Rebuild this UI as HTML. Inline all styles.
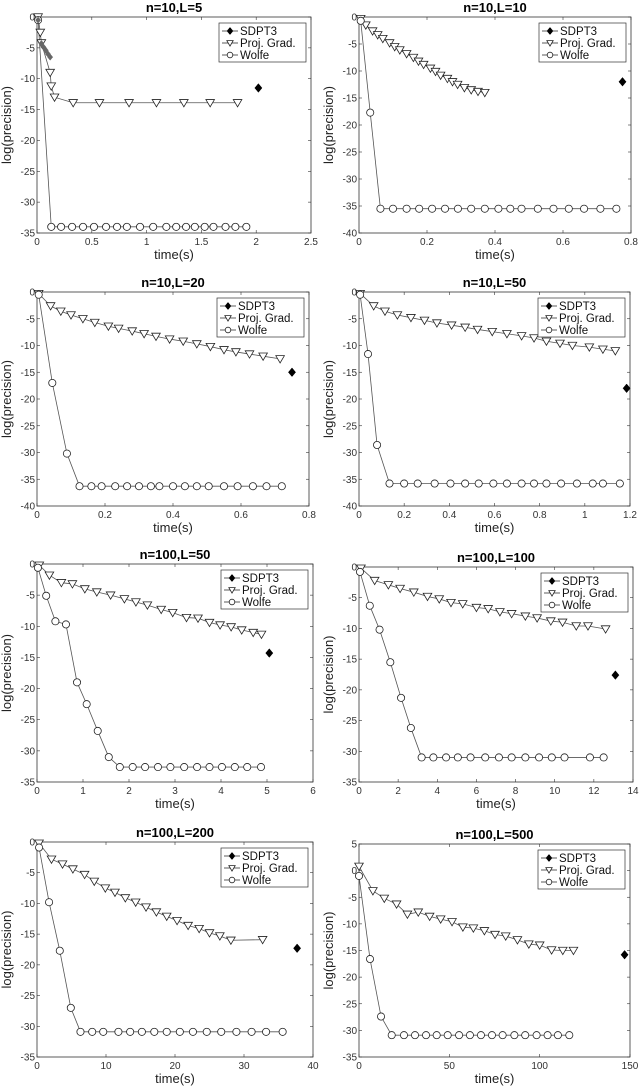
<!DOCTYPE html>
<html><head><meta charset="utf-8">
<style>
html,body{margin:0;padding:0;background:#fff;}
svg{display:block;font-family:"Liberation Sans",Arial,sans-serif;}
</style></head>
<body>
<svg id="fig" width="640" height="1087" viewBox="0 0 640 1087" xmlns="http://www.w3.org/2000/svg"></svg>
<script>
// ---- data arrays (one set per panel) ----
const titles = ["n=10,L=5","n=10,L=10","n=10,L=20","n=10,L=50","n=100,L=50","n=100,L=100","n=100,L=200","n=100,L=500"];

const p1_sdpt_x=[0.01,0.04,0.06,0.08,0.1,0.12,2.02];
const p1_sdpt_y=[-0.5,-4.3,-4.9,-5.4,-6,-6.5,-11.5];
const p1_pg_x=[0.01,0.03,0.04,0.12,0.13,0.16,0.33,0.57,0.84,1.09,1.34,1.58,1.83];
const p1_pg_y=[0,-2.5,-4.2,-9,-11.2,-13,-13.9,-13.9,-13.9,-13.9,-13.9,-13.9,-13.9];
const p1_w_x=[0.01,0.13,0.22,0.32,0.42,0.52,0.63,0.73,0.82,0.94,1.06,1.18,1.27,1.36,1.44,1.53,1.61,1.72,1.81,1.91];
const p1_w_y=[-0.5,-34,-34,-34,-34,-34,-34,-34,-34,-34,-34,-34,-34,-34,-34,-34,-34,-34,-34,-34];

const p2_sdpt_x=[0.775];
const p2_sdpt_y=[-12];
const p2_pg_x=[0.005,0.02,0.04,0.055,0.07,0.09,0.105,0.12,0.14,0.16,0.175,0.19,0.21,0.225,0.24,0.26,0.275,0.29,0.31,0.33,0.35,0.37];
const p2_pg_y=[-0.3,-1.5,-2.6,-3.3,-4.0,-4.8,-5.5,-6.1,-6.8,-7.5,-8.2,-8.8,-9.5,-10.1,-10.8,-11.4,-12.0,-12.5,-13.1,-13.5,-13.8,-14];
const p2_w_x=[0.005,0.033,0.063,0.1,0.14,0.177,0.215,0.253,0.291,0.33,0.37,0.41,0.445,0.478,0.526,0.572,0.617,0.662,0.71,0.757];
const p2_w_y=[-0.7,-17.7,-35.5,-35.5,-35.5,-35.5,-35.5,-35.5,-35.5,-35.5,-35.5,-35.5,-35.5,-35.5,-35.5,-35.5,-35.5,-35.5,-35.5,-35.5];

const p3_sdpt_x=[0.75];
const p3_sdpt_y=[-15];
const p3_pg_x=[0.005,0.04,0.07,0.1,0.135,0.17,0.21,0.24,0.28,0.315,0.35,0.39,0.43,0.47,0.51,0.55,0.585,0.625,0.665,0.715];
const p3_pg_y=[-0.3,-2.6,-3.6,-4.3,-5,-5.7,-6.4,-6.8,-7.3,-7.8,-8.3,-8.8,-9.2,-9.7,-10.2,-10.8,-11.2,-11.6,-12,-12.5];
const p3_w_x=[0.005,0.045,0.088,0.125,0.16,0.19,0.23,0.265,0.3,0.335,0.36,0.4,0.435,0.47,0.505,0.55,0.59,0.635,0.675,0.72];
const p3_w_y=[-0.5,-17,-30.2,-36.3,-36.3,-36.3,-36.3,-36.3,-36.3,-36.3,-36.3,-36.3,-36.3,-36.3,-36.3,-36.3,-36.3,-36.3,-36.3,-36.3];

const p4_sdpt_x=[1.185];
const p4_sdpt_y=[-18];
const p4_pg_x=[0.005,0.065,0.115,0.17,0.23,0.29,0.345,0.41,0.47,0.525,0.59,0.655,0.72,0.775,0.83,0.89,0.945,1.02,1.08,1.135];
const p4_pg_y=[-0.3,-2.6,-3.6,-4.3,-4.8,-5.3,-5.8,-6.2,-6.6,-7,-7.4,-7.8,-8.2,-8.6,-9.2,-9.6,-10,-10.3,-10.7,-11];
const p4_w_x=[0.005,0.04,0.08,0.135,0.2,0.26,0.335,0.405,0.47,0.53,0.595,0.655,0.72,0.775,0.83,0.895,0.965,1.035,1.08,1.155];
const p4_w_y=[-0.5,-11.6,-28.6,-35.8,-35.8,-35.8,-35.8,-35.8,-35.8,-35.8,-35.8,-35.8,-35.8,-35.8,-35.8,-35.8,-35.8,-35.8,-35.8,-35.8];

const p5_sdpt_x=[5.05];
const p5_sdpt_y=[-14.3];
const p5_pg_x=[0.05,0.27,0.53,0.77,1.04,1.3,1.6,1.9,2.15,2.4,2.7,2.95,3.25,3.5,3.75,3.98,4.22,4.45,4.7,4.88];
const p5_pg_y=[-0.2,-1.8,-3,-3.2,-4,-4.5,-5,-5.6,-6.1,-6.6,-7.3,-7.8,-8.6,-8.7,-9.4,-9.8,-10.1,-10.6,-11,-11.3];
const p5_w_x=[0.02,0.2,0.4,0.63,0.87,1.08,1.32,1.56,1.8,2.08,2.35,2.63,2.9,3.2,3.48,3.75,4.02,4.3,4.57,4.87];
const p5_w_y=[-0.6,-5.1,-9.2,-9.7,-19,-22.5,-26.8,-31,-32.6,-32.6,-32.6,-32.6,-32.6,-32.6,-32.6,-32.6,-32.6,-32.6,-32.6,-32.6];

const p6_sdpt_x=[13.1];
const p6_sdpt_y=[-17.6];
const p6_pg_x=[0.1,0.8,1.5,2.1,2.8,3.5,4.1,4.7,5.3,6,6.6,7.2,7.8,8.5,9.1,9.8,10.4,11.1,11.7,12.6];
const p6_pg_y=[-0.2,-2.2,-2.9,-3.5,-4.1,-4.8,-5.2,-5.8,-6.0,-6.6,-6.8,-7.3,-7.6,-8,-8.3,-8.8,-9,-9.6,-9.6,-10.1];
const p6_w_x=[0.05,0.55,1.05,1.6,2.15,2.65,3.2,3.8,4.45,5.05,5.7,6.45,7.15,7.8,8.5,9.2,9.85,10.5,11.8,12.5];
const p6_w_y=[-0.8,-6.3,-10.2,-15.5,-21.3,-26.2,-31,-31,-31,-31,-31,-31,-31,-31,-31,-31,-31,-31,-31,-31];

const p7_sdpt_x=[37.7];
const p7_sdpt_y=[-17.3];
const p7_pg_x=[0.3,2.1,3.7,5.2,6.9,8.3,9.9,11.3,12.8,14.3,15.8,17.3,18.8,20.3,21.9,23.5,25,26.5,28.1,32.7];
const p7_pg_y=[-0.2,-2.8,-3.6,-4.4,-5.3,-6.4,-7.5,-8.2,-9.1,-9.8,-10.6,-11.4,-12.1,-12.8,-13.6,-14.1,-14.8,-15.3,-16,-15.9];
const p7_w_x=[0.3,1.75,3.3,4.9,6.3,8,9.6,11.8,13.5,15.2,17,18.8,20.7,22.6,24.6,26.7,28.9,31.1,33.2,35.6];
const p7_w_y=[-0.9,-9.8,-17.7,-27,-30.9,-30.9,-30.9,-30.9,-30.9,-30.9,-30.9,-30.9,-30.9,-30.9,-30.9,-30.9,-30.9,-30.9,-30.9,-30.9];

const p8_sdpt_x=[147];
const p8_sdpt_y=[-15.8];
const p8_pg_x=[0,7.7,14,20.8,26.8,32.8,39.1,45.2,51.5,57.5,63.3,69.4,75.3,81.2,87.7,94,100,106.6,112.8,118.7];
const p8_pg_y=[0.8,-3.8,-5.2,-6.3,-8.2,-7.8,-8.6,-9.1,-9.6,-10.6,-10.8,-11.3,-12,-12.3,-13,-13.8,-14,-14.9,-15,-15];
const p8_w_x=[0,6.1,12.2,18.1,24.9,31,37.1,43,49.1,55.4,61.4,67.5,73.6,79.5,86,92,98.3,104.4,110.1,116.4];
const p8_w_y=[-1,-16.6,-27.4,-30.9,-30.9,-30.9,-30.9,-30.9,-30.9,-30.9,-30.9,-30.9,-30.9,-30.9,-30.9,-30.9,-30.9,-30.9,-30.9,-30.9];

const xTicks=[[0,0.5,1,1.5,2,2.5],[0,0.2,0.4,0.6,0.8],[0,0.2,0.4,0.6,0.8],[0,0.2,0.4,0.6,0.8,1,1.2],[0,1,2,3,4,5,6],[0,2,4,6,8,10,12,14],[0,10,20,30,40],[0,50,100,150]];
const yTicks=[[-35,-30,-25,-20,-15,-10,-5,0],[-40,-35,-30,-25,-20,-15,-10,-5,0],[-40,-35,-30,-25,-20,-15,-10,-5,0],[-40,-35,-30,-25,-20,-15,-10,-5,0],[-35,-30,-25,-20,-15,-10,-5,0],[-35,-30,-25,-20,-15,-10,-5,0],[-35,-30,-25,-20,-15,-10,-5,0],[-35,-30,-25,-20,-15,-10,-5,0,5]];

const series=[
 [p1_sdpt_x,p1_sdpt_y,p1_pg_x,p1_pg_y,p1_w_x,p1_w_y],
 [p2_sdpt_x,p2_sdpt_y,p2_pg_x,p2_pg_y,p2_w_x,p2_w_y],
 [p3_sdpt_x,p3_sdpt_y,p3_pg_x,p3_pg_y,p3_w_x,p3_w_y],
 [p4_sdpt_x,p4_sdpt_y,p4_pg_x,p4_pg_y,p4_w_x,p4_w_y],
 [p5_sdpt_x,p5_sdpt_y,p5_pg_x,p5_pg_y,p5_w_x,p5_w_y],
 [p6_sdpt_x,p6_sdpt_y,p6_pg_x,p6_pg_y,p6_w_x,p6_w_y],
 [p7_sdpt_x,p7_sdpt_y,p7_pg_x,p7_pg_y,p7_w_x,p7_w_y],
 [p8_sdpt_x,p8_sdpt_y,p8_pg_x,p8_pg_y,p8_w_x,p8_w_y]
];

// layout boxes [left, top, right, bottom]
const boxes=[[37,17,311,233],[359,17,631,233],[37,292,309,506],[359,292,630,506],[37,564,313,782],[359,567,633,782],[37,842,313,1057],[359,844,630,1057]];

const NS="http://www.w3.org/2000/svg";
const svg=document.getElementById('fig');
function mk(tag,attrs,parent){const e=document.createElementNS(NS,tag);for(const k in attrs)e.setAttribute(k,attrs[k]);(parent||svg).appendChild(e);return e;}

function tri(g,x,y,s){return mk('path',{d:`M${x-s},${y-s*0.75}L${x+s},${y-s*0.75}L${x},${y+s*0.95}Z`,fill:'#fff',stroke:'#222','stroke-width':0.8},g);}
function circ(g,x,y,r){return mk('circle',{cx:x,cy:y,r:r,fill:'#fff',stroke:'#222','stroke-width':0.8},g);}
function dia(g,x,y,s,f){return mk('path',{d:`M${x},${y-s*1.2}L${x+s},${y}L${x},${y+s*1.2}L${x-s},${y}Z`,fill:f||'#000',stroke:f||'#000','stroke-width':0.5},g);}

for(let p=0;p<8;p++){
  const [L,T,R,B]=boxes[p];
  const xt=xTicks[p], yt=yTicks[p];
  const xmin=xt[0],xmax=xt[xt.length-1],ymin=yt[0],ymax=yt[yt.length-1];
  const sx=v=>L+(v-xmin)/(xmax-xmin)*(R-L);
  const sy=v=>B-(v-ymin)/(ymax-ymin)*(B-T);
  const g=mk('g',{});
  
  
  const t=mk('text',{x:(L+R)/2,y:T-5,'text-anchor':'middle','font-size':13,'font-weight':'bold',fill:'#000'},g);
  t.textContent=titles[p];
  
  
  const frame=mk('rect',{x:L,y:T,width:R-L,height:B-T,fill:'none',stroke:'#333','stroke-width':0.8},g);
  
  
  xt.forEach(v=>{
    const x=sx(v);
    mk('line',{x1:x,y1:B,x2:x,y2:B-3,stroke:'#333','stroke-width':0.6},g);
    mk('line',{x1:x,y1:T,x2:x,y2:T+3,stroke:'#333','stroke-width':0.6},g);
    const tl=mk('text',{x:x,y:B+12,'text-anchor':'middle','font-size':10,fill:'#333'},g);
    tl.textContent=String(v);
    
    
  });
  yt.forEach(v=>{
    const y=sy(v);
    mk('line',{x1:L,y1:y,x2:L+3,y2:y,stroke:'#333','stroke-width':0.6},g);
    mk('line',{x1:R,y1:y,x2:R-3,y2:y,stroke:'#333','stroke-width':0.6},g);
    const tl=mk('text',{x:L-2,y:y+3.5,'text-anchor':'end','font-size':10,fill:'#333'},g);
    tl.textContent=String(v);
    
    
  });
  const xl=mk('text',{x:(L+R)/2,y:B+26,'text-anchor':'middle','font-size':13,fill:'#222'},g);
  xl.textContent='time(s)';
  
  
  const yl=mk('text',{x:0,y:0,'text-anchor':'middle','font-size':13,fill:'#222',transform:`translate(${L-26},${(T+B)/2}) rotate(-90)`},g);
  yl.textContent='log(precision)';
  
  

  const [sdx,sdy,pgx,pgy,wx,wy]=series[p];
  const pl1=mk('polyline',{points:pgx.map((v,i)=>sx(v)+','+sy(pgy[i])).join(' '),fill:'none',stroke:'#555','stroke-width':0.8},g);
  
  
  const pl2=mk('polyline',{points:wx.map((v,i)=>sx(v)+','+sy(wy[i])).join(' '),fill:'none',stroke:'#555','stroke-width':0.8},g);
  
  
  pgx.forEach((v,i)=>{const m=tri(g,sx(v),sy(pgy[i]),4.3);
    
    });
  wx.forEach((v,i)=>{const m=circ(g,sx(v),sy(wy[i]),3.6);
    
    });
  sdx.forEach((v,i)=>{
    const last=(i===sdx.length-1);
    const m=dia(g,sx(v),sy(sdy[i]),last?3.6:2.6,last?'#000':'#666');
    
    });

  const lx=R-92, ly=T+6;
  const lg=mk('g',{},g);
  
  
  mk('rect',{x:lx,y:ly,width:87,height:39,fill:'#fff',stroke:'#333','stroke-width':0.7},lg);
  const names=['SDPT3','Proj. Grad.','Wolfe'];
  names.forEach((n,i)=>{
    const yy=ly+8+i*12;
    mk('line',{x1:lx+3,y1:yy,x2:lx+19,y2:yy,stroke:'#333','stroke-width':0.8},lg);
    if(i===0)dia(lg,lx+11,yy,3);
    if(i===1)tri(lg,lx+11,yy,3.2);
    if(i===2)circ(lg,lx+11,yy,2.8);
    const tx=mk('text',{x:lx+21,y:yy+4,'font-size':11.5,fill:'#111'},lg);
    tx.textContent=n;
    
    
  });
}
</script>
</body></html>
